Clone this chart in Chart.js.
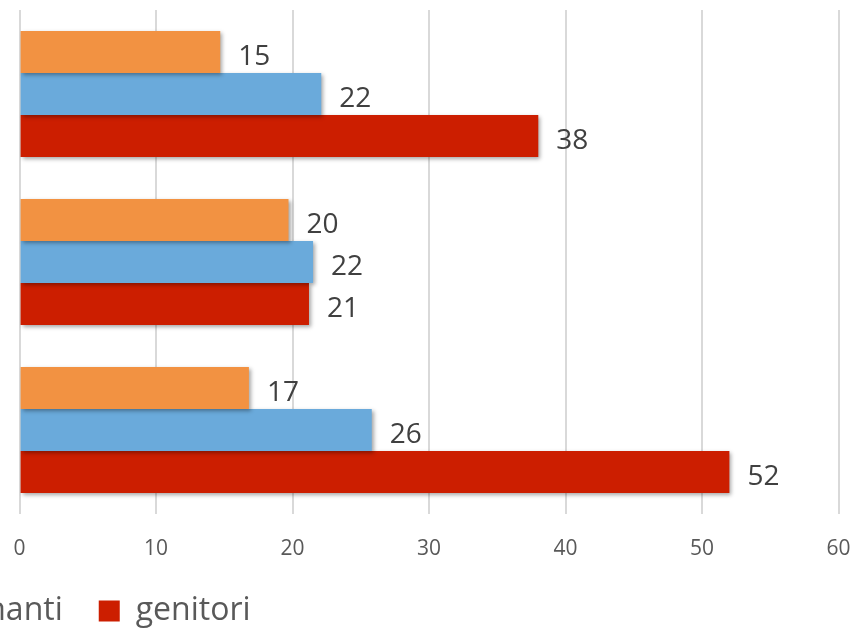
<!DOCTYPE html>
<html>
<head>
<meta charset="utf-8">
<script src="https://cdn.jsdelivr.net/npm/chart.js@4/dist/chart.umd.min.js"></script>
<style>
  html, body { margin: 0; padding: 0; background: #fff; overflow: hidden; width: 850px; height: 631px; }
  #wrap { position: absolute; left: -947.3px; top: 0; width: 1819.6px; height: 640px; }
</style>
</head>
<body>
<div id="wrap"><canvas id="chart"></canvas></div>
<script>
// Data
const categories = ['Categoria 1', 'Categoria 2', 'Categoria 3'];
const seriesNames = ['studenti', 'insegnanti', 'genitori'];
const studenti = [14.7, 19.7, 16.8];
const insegnanti = [22.1, 21.5, 25.8];
const genitori = [38.0, 21.2, 52.0];
const xTicks = [0, 10, 20, 30, 40, 50, 60];

const colors = ['#F29242', '#6AAADB', '#CC1E00'];

// soft drop shadow under the bars, like the office chart
const barShadow = {
  id: 'barShadow',
  beforeDatasetsDraw(chart) {
    const ctx = chart.ctx;
    ctx.save();
    ctx.shadowColor = 'rgba(0,0,0,0.35)';
    ctx.shadowBlur = 4;
    ctx.shadowOffsetX = 2;
    ctx.shadowOffsetY = 2;
  },
  afterDatasetsDraw(chart) {
    chart.ctx.restore();
  }
};

// value labels at the end of each bar
const valueLabels = {
  id: 'valueLabels',
  afterDatasetsDraw(chart) {
    const ctx = chart.ctx;
    ctx.save();
    ctx.font = '28px "Open Sans"';
    ctx.fillStyle = '#404040';
    ctx.textAlign = 'left';
    ctx.textBaseline = 'middle';
    chart.data.datasets.forEach((ds, i) => {
      chart.getDatasetMeta(i).data.forEach((bar, j) => {
        ctx.fillText(String(Math.round(ds.data[j])), bar.x + 18, bar.y + 5);
      });
    });
    ctx.restore();
  }
};

new Chart(document.getElementById('chart'), {
  type: 'bar',
  data: {
    labels: categories,
    datasets: [studenti, insegnanti, genitori].map((d, i) => ({
      label: seriesNames[i],
      data: d,
      backgroundColor: colors[i],
      borderWidth: 0,
      categoryPercentage: 0.75,
      barPercentage: 1.0
    }))
  },
  options: {
    indexAxis: 'y',
    responsive: true,
    maintainAspectRatio: false,
    animation: false,
    layout: { padding: { top: 10, right: 0, bottom: 3, left: 0 } },
    scales: {
      x: {
        min: 0,
        max: 60,
        afterBuildTicks: (scale) => { scale.ticks = xTicks.map(v => ({ value: v })); },
        afterFit: (scale) => { scale.height = 45; },
        grid: { color: '#d9d9d9', lineWidth: 2, drawTicks: false },
        border: { display: false },
        ticks: {
          padding: 22,
          color: '#595959',
          font: { family: 'Open Sans', size: 21 }
        }
      },
      y: {
        ticks: { display: false },
        grid: { display: false },
        border: { display: false },
        afterFit: (scale) => { scale.width = 966.6; }
      }
    },
    plugins: {
      legend: {
        position: 'bottom',
        labels: {
          boxWidth: 21,
          boxHeight: 21,
          padding: 36,
          color: '#595959',
          font: { family: 'Open Sans', size: 32 }
        }
      },
      tooltip: { enabled: false }
    }
  },
  plugins: [barShadow, valueLabels]
});
</script>
</body>
</html>
